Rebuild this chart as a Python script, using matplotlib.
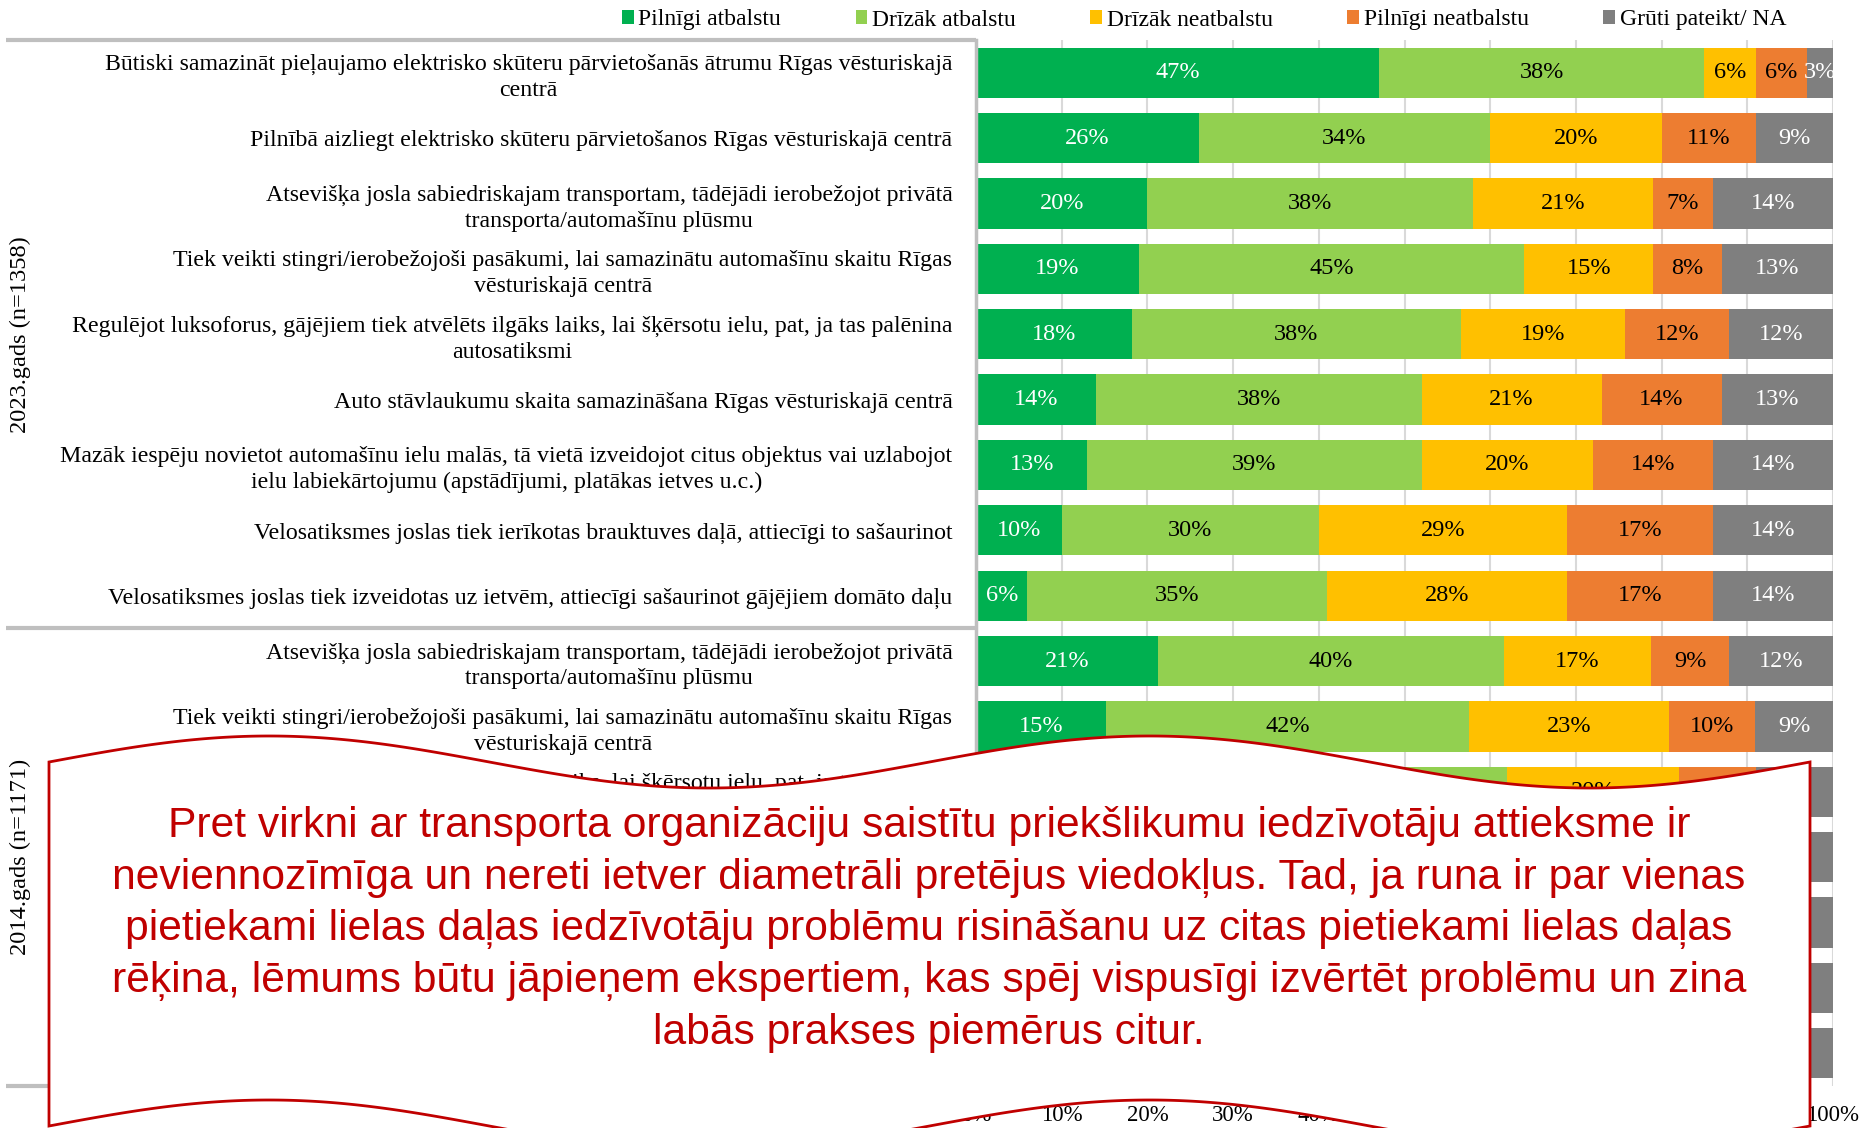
import numpy as np
import matplotlib
matplotlib.use('Agg')
import matplotlib.pyplot as plt
import matplotlib.transforms as mtransforms
from matplotlib.patches import Patch, Polygon

# ---------------- data ----------------
series_names = ['Pilnīgi atbalstu', 'Drīzāk atbalstu', 'Drīzāk neatbalstu',
                'Pilnīgi neatbalstu', 'Grūti pateikt/ NA']
series_colors = ['#00B050', '#92D050', '#FFC000', '#ED7D31', '#7F7F7F']
value_text_colors = ['white', 'black', 'black', 'black', 'white']

categories_2023 = [
    "Būtiski samazināt pieļaujamo elektrisko skūteru pārvietošanās ātrumu Rīgas vēsturiskajā\ncentrā",
    "Pilnībā aizliegt elektrisko skūteru pārvietošanos Rīgas vēsturiskajā centrā",
    "Atsevišķa josla sabiedriskajam transportam, tādējādi ierobežojot privātā\ntransporta/automašīnu plūsmu",
    "Tiek veikti stingri/ierobežojoši pasākumi, lai samazinātu automašīnu skaitu Rīgas\nvēsturiskajā centrā",
    "Regulējot luksoforus, gājējiem tiek atvēlēts ilgāks laiks, lai šķērsotu ielu, pat, ja tas palēnina\nautosatiksmi",
    "Auto stāvlaukumu skaita samazināšana Rīgas vēsturiskajā centrā",
    "Mazāk iespēju novietot automašīnu ielu malās, tā vietā izveidojot citus objektus vai uzlabojot\nielu labiekārtojumu (apstādījumi, platākas ietves u.c.)",
    "Velosatiksmes joslas tiek ierīkotas brauktuves daļā, attiecīgi to sašaurinot",
    "Velosatiksmes joslas tiek izveidotas uz ietvēm, attiecīgi sašaurinot gājējiem domāto daļu",
]
categories_2014 = [
    "Atsevišķa josla sabiedriskajam transportam, tādējādi ierobežojot privātā\ntransporta/automašīnu plūsmu",
    "Tiek veikti stingri/ierobežojoši pasākumi, lai samazinātu automašīnu skaitu Rīgas\nvēsturiskajā centrā",
    "Regulējot luksoforus, gājējiem tiek atvēlēts ilgāks laiks, lai šķērsotu ielu, pat, ja tas palēnina\nautosatiksmi",
    "Auto stāvlaukumu skaita samazināšana Rīgas vēsturiskajā centrā",
    "Mazāk iespēju novietot automašīnu ielu malās, tā vietā izveidojot citus objektus vai uzlabojot\nielu labiekārtojumu (apstādījumi, platākas ietves u.c.)",
    "Velosatiksmes joslas tiek ierīkotas brauktuves daļā, attiecīgi to sašaurinot",
    "Velosatiksmes joslas tiek izveidotas uz ietvēm, attiecīgi sašaurinot gājējiem domāto daļu",
]
group_labels = ['2023.gads (n=1358)', '2014.gads (n=1171)']

# 9 rows for 2023 followed by 7 rows for 2014 (%)
pilnigi_atbalstu   = [47, 26, 20, 19, 18, 14, 13, 10, 6,   21, 15, 22, 13, 12, 11, 7]
drizak_atbalstu    = [38, 34, 38, 45, 38, 38, 39, 30, 35,  40, 42, 40, 36, 38, 33, 31]
drizak_neatbalstu  = [6, 20, 21, 15, 19, 21, 20, 29, 28,   17, 23, 20, 23, 24, 28, 30]
pilnigi_neatbalstu = [6, 11, 7, 8, 12, 14, 14, 17, 17,     9, 10, 9, 15, 13, 15, 19]
gruti_pateikt      = [3, 9, 14, 13, 12, 13, 14, 14, 14,    12, 9, 9, 13, 13, 13, 13]

ticks = [0, 10, 20, 30, 40, 50, 60, 70, 80, 90, 100]
tick_labels = [f'{t}%' for t in ticks]

banner_lines = [
    "Pret virkni ar transporta organizāciju saistītu priekšlikumu iedzīvotāju attieksme ir",
    "neviennozīmīga un nereti ietver diametrāli pretējus viedokļus. Tad, ja runa ir par vienas",
    "pietiekami lielas daļas iedzīvotāju problēmu risināšanu uz citas pietiekami lielas daļas",
    "rēķina, lēmums būtu jāpieņem ekspertiem, kas spēj vispusīgi izvērtēt problēmu un zina",
    "labās prakses piemērus citur.",
]

# ---------------- figure ----------------
W, H = 1861, 1128
SERIF = 'Liberation Serif'
SANS = 'Liberation Sans'
fig = plt.figure(figsize=(W / 100, H / 100), dpi=100)
fig.patch.set_facecolor('white')

ax_l, ax_r, ax_t, ax_b = 976, 1833, 40, 1086
ax = fig.add_axes([ax_l / W, 1 - ax_b / H, (ax_r - ax_l) / W, (ax_b - ax_t) / H])

series = [pilnigi_atbalstu, drizak_atbalstu, drizak_neatbalstu,
          pilnigi_neatbalstu, gruti_pateikt]
data = np.array(series, dtype=float)
totals = data.sum(axis=0)
widths = data / totals * 100
categories = categories_2023 + categories_2014
ypos = np.arange(len(categories))

left = np.zeros(len(categories))
for k in range(len(series)):
    ax.barh(ypos, widths[k], left=left, height=0.77, color=series_colors[k],
            edgecolor='none', label=series_names[k], zorder=2)
    for i in range(len(categories)):
        ax.text(left[i] + widths[k][i] / 2, ypos[i], f'{series[k][i]}%',
                ha='center', va='center', color=value_text_colors[k],
                fontsize=17.5, family=SERIF, zorder=3)
    left = left + widths[k]

ax.set_xlim(0, 100)
ax.set_ylim(len(categories) - 0.5, -0.5)
ax.set_xticks(ticks)
ax.set_xticklabels(tick_labels, fontsize=16.5, family=SERIF)
ax.set_yticks(ypos)
ax.set_yticklabels(categories, fontsize=17.2, family=SERIF, multialignment='center',
                   linespacing=1.3)
ax.tick_params(axis='x', length=0, pad=14)
ax.tick_params(axis='y', length=0, pad=17)
ax.xaxis.grid(True, color='#D9D9D9', lw=1.5)
ax.set_axisbelow(True)
for s in ['top', 'right', 'bottom']:
    ax.spines[s].set_visible(False)
ax.spines['left'].set_color('#BFBFBF')
ax.spines['left'].set_linewidth(2.5)

# group separators and group labels
trans = mtransforms.blended_transform_factory(ax.transAxes, ax.transData)
x0 = (6 - ax_l) / (ax_r - ax_l)
n23 = len(categories_2023)
for yy in [-0.5, n23 - 0.5, len(categories) - 0.5]:
    ax.plot([x0, 0], [yy, yy], transform=trans, color='#BFBFBF', lw=3,
            clip_on=False, solid_capstyle='butt', zorder=1)
ftrans = mtransforms.blended_transform_factory(fig.transFigure, ax.transData)
fig.text(20 / W, (n23 - 1) / 2, group_labels[0], rotation=90, ha='center', va='center',
         fontsize=17.6, family=SERIF, transform=ftrans)
fig.text(20 / W, n23 + (len(categories_2014) - 1) / 2, group_labels[1], rotation=90,
         ha='center', va='center', fontsize=17.6, family=SERIF, transform=ftrans)

# legend
handles = [Patch(facecolor=c, edgecolor='none') for c in series_colors]
fig.legend(handles, series_names, loc='center', bbox_to_anchor=(1204 / W, 1 - 20 / H),
           ncol=5, frameon=False, prop={'family': SERIF, 'size': 17},
           handlelength=0.5, handleheight=0.5, handletextpad=0.2, columnspacing=3.15)

# ---------------- banner overlay ----------------
ov = fig.add_axes([0, 0, 1, 1], zorder=10)
ov.set_xlim(0, W)
ov.set_ylim(H, 0)
ov.axis('off')
ov.patch.set_alpha(0)
bl, br, amp = 49, 1810, 26
top_base, bot_base = 762, 1126
xs = np.linspace(bl, br, 400)
phase = 2 * np.pi * 2 * (xs - bl) / (br - bl)
top = top_base - amp * np.sin(phase)
bot = bot_base - amp * np.sin(phase)
pts = np.vstack([np.column_stack([xs, top]), np.column_stack([xs[::-1], bot[::-1]])])
ov.add_patch(Polygon(pts, closed=True, facecolor='white', edgecolor='#C00000', lw=2.0))
base0, pitch = 837, 51.7
for j, line in enumerate(banner_lines):
    ov.text(929, base0 + j * pitch, line, ha='center', va='baseline', color='#C00000',
            fontsize=30.7, family=SANS)

fig.savefig('out.png', dpi=100, facecolor='white')
